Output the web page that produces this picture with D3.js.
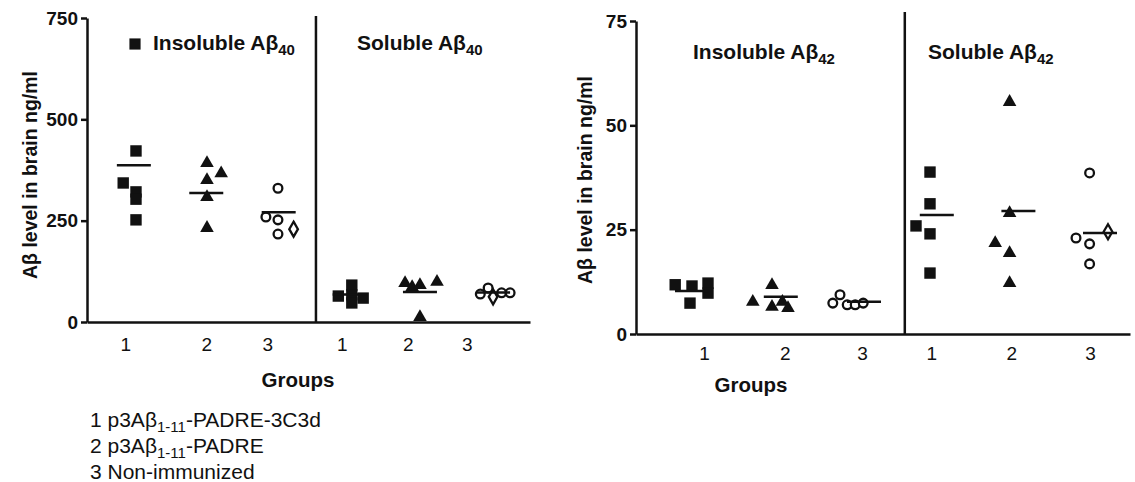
<!DOCTYPE html>
<html>
<head>
<meta charset="utf-8">
<script src="https://cdn.jsdelivr.net/npm/d3@7"></script>
<style>
  body { margin: 0; background: #fff; }
  svg { display: block; font-family: "Liberation Sans", Arial, Helvetica, sans-serif; }
  .axis path, .axis line { stroke: #111; stroke-width: 2.5; }
  .axis text { fill: #111; }
</style>
</head>
<body>
<div id="chart"></div>
<script>
// tick labels under each x axis (insoluble 1-3, soluble 1-3)
const slotLabels = ["1", "2", "3", "1", "2", "3"];
const ab40TickPos = [0.85, 1.99, 2.85, 3.9, 4.83, 5.66];
const ab42TickPos = [1.15, 2.16, 3.125, 3.99, 4.99, 5.975];
const ab40YTicks = [0, 250, 500, 750];
const ab42YTicks = [0, 25, 50, 75];

// points: [slot position, ng/ml, marker]
const ab40Points = [
  [1.0, 422, "square"], [0.82, 343, "square"], [1.0, 321, "square"], [1.0, 303, "square"], [1.0, 252, "square"],
  [2.0, 392, "triangle"], [2.2, 367, "triangle"], [2.0, 350, "triangle"], [2.0, 308, "triangle"], [2.0, 232, "triangle"],
  [3.0, 330, "circle"], [2.83, 259, "circle"], [3.0, 252, "circle"], [3.22, 229, "diamond"], [3.0, 217, "circle"],
  [4.04, 91, "square"], [3.85, 64, "square"], [4.04, 67, "square"], [4.2, 59, "square"], [4.04, 47, "square"],
  [4.79, 96, "triangle"], [4.89, 86, "triangle"], [5.0, 91, "triangle"], [5.24, 99, "triangle"], [5.0, 12, "triangle"],
  [5.85, 69, "circle"], [5.96, 84, "circle"], [6.03, 62, "diamond"], [6.15, 72, "circle"], [6.27, 72, "circle"]
];
const ab40Means = [[0.97, 387], [1.99, 318], [3.01, 271], [4.01, 68], [5.0, 74], [6.03, 73]];

const ab42Points = [
  [0.79, 11.8, "square"], [1.0, 11.5, "square"], [1.2, 12.2, "square"], [1.2, 9.8, "square"], [0.975, 7.4, "square"],
  [2.0, 11.7, "triangle"], [1.76, 7.7, "triangle"], [2.0, 6.5, "triangle"], [2.13, 7.7, "triangle"], [2.2, 6.2, "triangle"],
  [2.76, 7.4, "circle"], [2.85, 9.4, "circle"], [2.94, 7.0, "circle"], [3.04, 7.0, "circle"], [3.14, 7.4, "circle"],
  [3.975, 38.8, "square"], [3.975, 31.2, "square"], [3.8, 25.9, "square"], [3.975, 24, "square"], [3.975, 14.6, "square"],
  [4.97, 55.6, "triangle"], [4.97, 29, "triangle"], [4.79, 21.8, "triangle"], [4.97, 19.4, "triangle"], [4.97, 12.2, "triangle"],
  [5.97, 38.6, "circle"], [5.8, 23, "circle"], [5.97, 21.6, "circle"], [6.2, 24.5, "diamond"], [5.97, 16.8, "circle"]
];
const ab42Means = [[1.0, 10.3], [2.11, 8.9], [3.15, 7.7], [4.06, 28.5], [5.08, 29.5], [6.1, 24.2]];

const legendLines = [
  ["1 p3Aβ", "1-11", "-PADRE-3C3d"],
  ["2 p3Aβ", "1-11", "-PADRE"],
  ["3 Non-immunized", "", ""]
];

const W = 1135, H = 482;
const svg = d3.select("#chart").append("svg").attr("width", W).attr("height", H);

const shapes = {
  square: {type: d3.symbolSquare, size: 130, fill: true},
  triangle: {type: d3.symbolTriangle, size: 80, fill: true},
  circle: {type: d3.symbolCircle, size: 60, fill: false},
  diamond: {type: d3.symbolDiamond, size: 65, fill: false}
};

function subText(sel, parts, bigSize, smallSize) {
  sel.append("tspan").text(parts[0]);
  if (parts[1]) {
    sel.append("tspan").attr("dy", 5).attr("font-size", smallSize).text(parts[1]);
    sel.append("tspan").attr("dy", -5).attr("font-size", bigSize).text(parts[2]);
  }
}

function drawPanel(cfg) {
  const g = svg.append("g");
  const x = d3.scaleLinear().domain(cfg.xDomain).range(cfg.xRange);
  const y = d3.scaleLinear().domain(cfg.yDomain).range(cfg.yRange);

  g.append("g").attr("class", "axis")
    .attr("transform", `translate(${cfg.xRange[0]},0)`)
    .call(d3.axisLeft(y).tickValues(cfg.yTicks).tickSize(6).tickSizeOuter(0).tickPadding(3))
    .call(a => a.selectAll("text").attr("font-size", 19).attr("font-weight", "bold"));

  g.append("g").attr("class", "axis")
    .attr("transform", `translate(0,${cfg.yRange[0]})`)
    .call(d3.axisBottom(x).tickValues(cfg.tickPos).tickSize(0).tickSizeOuter(0)
      .tickPadding(cfg.tickPad).tickFormat((d, i) => slotLabels[i]))
    .call(a => a.selectAll("text").attr("font-size", 19));

  g.append("line")
    .attr("x1", x(cfg.divider)).attr("x2", x(cfg.divider))
    .attr("y1", cfg.dividerTop).attr("y2", cfg.yRange[0])
    .attr("stroke", "#111").attr("stroke-width", 2.5);

  g.selectAll("path.pt").data(cfg.points).enter().append("path")
    .attr("class", "pt")
    .attr("transform", d => `translate(${x(d[0])},${y(d[1])})`)
    .attr("d", d => d3.symbol().type(shapes[d[2]].type).size(shapes[d[2]].size)())
    .attr("fill", d => shapes[d[2]].fill ? "#111" : "#fff")
    .attr("stroke", "#111")
    .attr("stroke-width", d => shapes[d[2]].fill ? 0 : 2.3);

  g.selectAll("line.mean").data(cfg.means).enter().append("line")
    .attr("class", "mean")
    .attr("x1", d => x(d[0]) - 17).attr("x2", d => x(d[0]) + 17)
    .attr("y1", d => y(d[1])).attr("y2", d => y(d[1]))
    .attr("stroke", "#111").attr("stroke-width", 2.5);

  cfg.titles.forEach(t => {
    const txt = g.append("text").attr("x", t.x).attr("y", t.y)
      .attr("font-size", 21).attr("font-weight", "bold").attr("fill", "#111");
    subText(txt, t.parts, 21, 15);
  });

  g.append("text")
    .attr("transform", `translate(${cfg.yTitle[0]},${cfg.yTitle[1]}) rotate(-90)`)
    .attr("text-anchor", "middle").attr("dy", "0.35em")
    .attr("font-size", 19.5).attr("font-weight", "bold").attr("fill", "#111")
    .text("Aβ level in brain ng/ml");

  g.append("text")
    .attr("x", cfg.groupsAt[0]).attr("y", cfg.groupsAt[1])
    .attr("text-anchor", "middle")
    .attr("font-size", 20.5).attr("font-weight", "bold").attr("fill", "#111")
    .text("Groups");
  return {x, y, g};
}

const left = drawPanel({
  xDomain: [0.31, 6.55], xRange: [87, 530],
  yDomain: [0, 750], yRange: [322, 18], yTicks: ab40YTicks,
  tickPos: ab40TickPos, tickPad: 16,
  divider: 3.535, dividerTop: 16,
  points: ab40Points, means: ab40Means,
  titles: [
    {x: 153, y: 50, parts: ["Insoluble Aβ", "40", ""]},
    {x: 357, y: 50, parts: ["Soluble Aβ", "40", ""]}
  ],
  yTitle: [30, 175], groupsAt: [298, 387]
});

// square marker in front of the first title
left.g.append("path")
  .attr("transform", "translate(135,44)")
  .attr("d", d3.symbol().type(d3.symbolSquare).size(125)())
  .attr("fill", "#111");

drawPanel({
  xDomain: [0.3, 6.475], xRange: [636, 1130],
  yDomain: [0, 75], yRange: [334, 21], yTicks: ab42YTicks,
  tickPos: ab42TickPos, tickPad: 13,
  divider: 3.66, dividerTop: 12,
  points: ab42Points, means: ab42Means,
  titles: [
    {x: 693, y: 59, parts: ["Insoluble Aβ", "42", ""]},
    {x: 928, y: 59, parts: ["Soluble Aβ", "42", ""]}
  ],
  yTitle: [585, 180], groupsAt: [751, 392]
});

// group key under the left chart
legendLines.forEach((parts, i) => {
  const t = svg.append("text").attr("x", 90).attr("y", 427 + i * 26)
    .attr("font-size", 21).attr("fill", "#111");
  subText(t, parts, 21, 15);
});
</script>
</body>
</html>
